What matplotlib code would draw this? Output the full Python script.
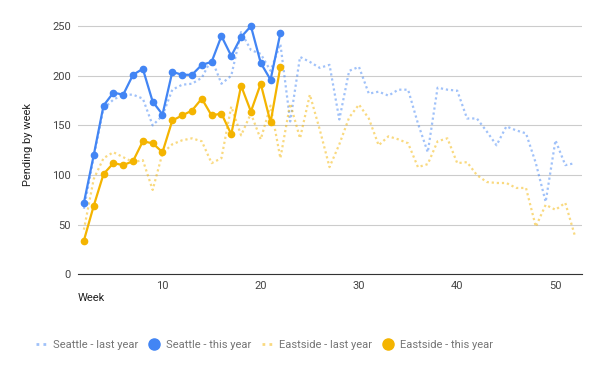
import matplotlib
matplotlib.use("Agg")
import matplotlib.pyplot as plt
from matplotlib.lines import Line2D

plt.rcParams["font.family"] = ["Roboto", "DejaVu Sans"]

# weekly pending counts
weeks_last = list(range(2, 53))
seattle_last = [66, 118, 167, 176, 181, 181, 177, 150, 160, 186, 191, 192, 198, 217,
                192, 200, 244, 226, 222, 205, 232, 154, 219, 214, 208, 211, 156, 205,
                209, 182, 184, 180, 186, 186, 152, 123, 188, 186, 185, 157, 157, 144,
                130, 149, 145, 142, 112, 73, 135, 110, 112]
eastside_last = [45, 96, 117, 123, 118, 113, 115, 85, 122, 131, 135, 137, 134, 112,
                 117, 169, 140, 162, 136, 170, 117, 172, 137, 181, 146, 108, 131, 158,
                 171, 157, 130, 139, 136, 132, 108, 111, 134, 137, 112, 113, 100, 93,
                 92, 92, 87, 87, 48, 70, 65, 72, 38]

weeks_this = list(range(2, 23))
seattle_this = [72, 120, 170, 183, 181, 201, 207, 174, 161, 204, 201, 201, 211, 214,
                240, 220, 239, 250, 213, 196, 243]
eastside_this = [34, 69, 101, 112, 110, 114, 134, 132, 123, 155, 160, 165, 177, 160,
                 162, 141, 190, 164, 192, 153, 209]

BLUE = "#4285F4"
ORANGE = "#F4B400"
TXT = "#444444"

fig = plt.figure(figsize=(6, 3.71), dpi=100)
ax = fig.add_axes([0.13, 0.2606, 0.84, 0.701])

dot = (0, (1, 1.3))
ax.plot(weeks_last, seattle_last, color=BLUE, alpha=0.5, lw=1.6, ls=dot)
ax.plot(weeks_last, eastside_last, color=ORANGE, alpha=0.5, lw=1.6, ls=dot)
ax.plot(weeks_this, seattle_this, color=BLUE, lw=1.6, marker="o", ms=4.5)
ax.plot(weeks_this, eastside_this, color=ORANGE, lw=1.6, marker="o", ms=4.5)

ax.set_xlim(1.4, 52.7)
ax.set_ylim(0, 262)
ax.set_yticks([0, 50, 100, 150, 200, 250])
ax.set_xticks([10, 20, 30, 40, 50])
ax.grid(axis="y", color="#cccccc", lw=0.8)
ax.set_axisbelow(True)
for s in ["top", "right", "left"]:
    ax.spines[s].set_visible(False)
ax.spines["bottom"].set_color("#333333")
ax.tick_params(length=0, labelsize=8, labelcolor=TXT, pad=5)
ax.set_ylabel("Pending by week", fontsize=8, color="#222222", labelpad=14)
ax.text(0.0, -0.07, "Week", transform=ax.transAxes, ha="left", va="top",
        fontsize=8, color="#222222")

handles = [
    Line2D([], [], color=BLUE, alpha=0.5, lw=2, ls=(0, (1, 1.5))),
    Line2D([], [], color=BLUE, lw=0, marker="o", ms=8),
    Line2D([], [], color=ORANGE, alpha=0.5, lw=2, ls=(0, (1, 1.5))),
    Line2D([], [], color=ORANGE, lw=0, marker="o", ms=8),
]
labels = ["Seattle - last year", "Seattle - this year",
          "Eastside - last year", "Eastside - this year"]
leg = fig.legend(handles, labels, loc="center left", bbox_to_anchor=(36 / 600, 0.07),
                 ncol=4, frameon=False, fontsize=8, handlelength=0.9,
                 handletextpad=0.6, columnspacing=1.0, borderpad=0, borderaxespad=0)
for t in leg.get_texts():
    t.set_color("#757575")

fig.savefig("out.png", dpi=100)
